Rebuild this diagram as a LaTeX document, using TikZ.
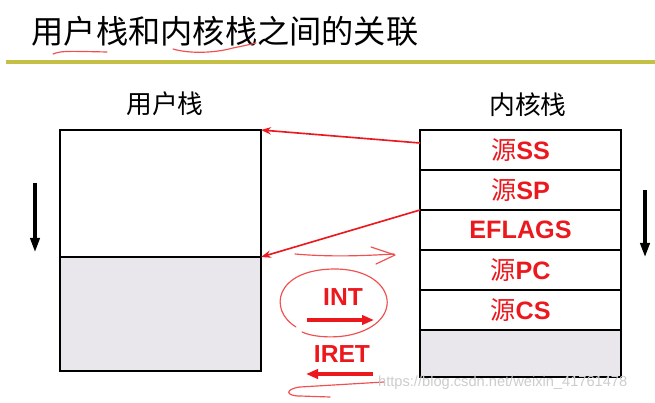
\documentclass[tikz,border=0pt]{standalone}
\usepackage{fontspec}
\setmainfont{Liberation Sans}
\newfontfamily\cjk{Noto Sans CJK SC}
\usetikzlibrary{arrows.meta,positioning}
\definecolor{stackgray}{RGB}{233,231,236}
\definecolor{titleolive}{RGB}{196,192,70}
\definecolor{slidered}{RGB}{235,25,30}
\definecolor{inkred}{RGB}{240,80,80}

\begin{document}
\begin{tikzpicture}[x=0.03cm,y=-0.03cm,>=Stealth,
 cell/.style={draw=black,line width=2.4pt,outer sep=0pt,inner sep=0pt,minimum width=6.03cm,minimum height=1.2cm,text=slidered,font=\fontsize{21.5}{24}\selectfont\bfseries},
 stacklabel/.style={font=\cjk\fontsize{22}{24}\selectfont},
 link/.style={-{Stealth[length=3mm,width=2.2mm]},line width=1.4pt,slidered},
 growth/.style={-{Triangle[length=4.2mm,width=2.8mm]},line width=2.6pt,black},
 op/.style={text=slidered,font=\fontsize{21}{24}\selectfont\bfseries},
 opline/.style={-{Triangle[length=3.6mm,width=2.8mm]},line width=3pt,slidered},
 hand/.style={inkred,line width=1pt,line cap=round,line join=round}]
\useasboundingbox (0,0) rectangle (655,403);

% title and rule
\node[font=\cjk\fontsize{27.5}{30}\selectfont] (title) at (225,31) {用户栈和内核栈之间的关联};
\draw[titleolive,line width=4.2pt] (6,62) -- (655,62);
\draw[hand] (53,54) .. controls (62,51) .. (107,52);
\draw[hand] (173,49) .. controls (190,54) and (215,53) .. (233,48) .. controls (243,46) .. (256,43);

% user stack
\node[stacklabel] (ulabel) at (165,104) {用户栈};
\node[cell,minimum height=3.81cm] (utop) at (160.5,193.5) {};
\node[cell,fill=stackgray,minimum height=3.42cm,below=0pt of utop] (ubottom) {};
\draw[growth] (35,183) -- (35,252);

% kernel stack
\node[stacklabel] (klabel) at (528,105) {内核栈};
\node[cell] (ss) at (520.5,150) {{\cjk\mdseries 源}SS};
\node[cell,below=0pt of ss] (sp) {{\cjk\mdseries 源}SP};
\node[cell,below=0pt of sp] (eflags) {EFLAGS};
\node[cell,below=0pt of eflags] (pc) {{\cjk\mdseries 源}PC};
\node[cell,below=0pt of pc] (cs) {{\cjk\mdseries 源}CS};
\node[cell,fill=stackgray,minimum height=1.41cm,below=0pt of cs] (kbottom) {};
\draw[growth] (645,190) -- (645,257);

% saved ss:sp point back to the user stack
\draw[link] ([yshift=-0.39cm]ss.north west) -- (utop.north east);
\draw[link] (sp.south west) -- (utop.south east);

% INT / IRET
\node[op] (int) at (343,297) {INT};
\draw[opline] (307,320) -- (374,320);
\node[op] (iret) at (342,354) {IRET};
\draw[opline] (373,374) -- (306,374);

% handwritten marks
\draw[hand] (295,254) .. controls (330,257) and (360,256) .. (394,254);
\draw[hand] (371,247) -- (395,255) -- (376,264);
\draw[hand] (296,327) .. controls (268,310) and (275,270) .. (333,269) .. controls (395,268) and (408,322) .. (350,335) .. controls (330,339) and (310,336) .. (302,332);
\draw[hand] (384,382) -- (300,387) .. controls (285,389) and (285,396) .. (300,396) -- (330,397);

\node[anchor=west,text=black!20,font=\fontsize{12.5}{14}\selectfont] (mark) at (374,383) {https://blog.csdn.net/weixin\_41761478};
\end{tikzpicture}
\end{document}
